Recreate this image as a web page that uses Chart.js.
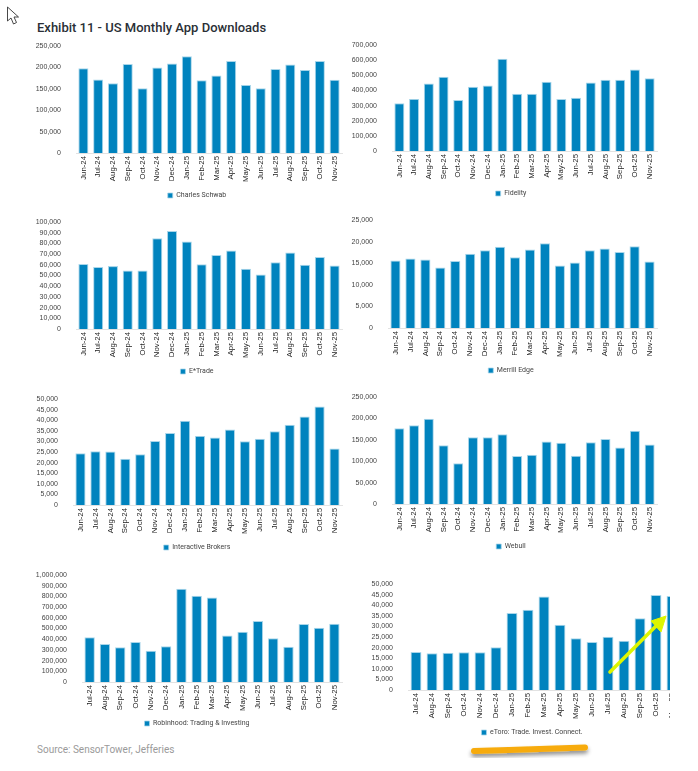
<!DOCTYPE html>
<html>
<head>
<meta charset="utf-8">
<title>US Monthly App Downloads</title>
<script src="https://cdn.jsdelivr.net/npm/chart.js@4"></script>
<style>
  html, body { margin: 0; padding: 0; background: #fff; }
  body { position: relative; width: 698px; height: 771px; overflow: hidden; }
  #title { position: absolute; left: 37px; top: 20px; font: 500 13px Roboto, sans-serif; color: #2a2f36; white-space: nowrap; }
  #source { position: absolute; left: 37px; top: 744px; font: 400 10px Roboto, sans-serif; color: #9a9a9a; white-space: nowrap; }
  .panel { position: absolute; overflow: hidden; }
  .panel canvas { filter: blur(0.3px); }
  #marks { position: absolute; left: 0; top: 0; }
</style>
</head>
<body>
<div id="title">Exhibit 11 - US Monthly App Downloads</div>
<div id="source">Source: SensorTower, Jefferies</div>

<script>
// months on the x axes
const monthsFromJun = ['Jun-24','Jul-24','Aug-24','Sep-24','Oct-24','Nov-24','Dec-24','Jan-25','Feb-25','Mar-25','Apr-25','May-25','Jun-25','Jul-25','Aug-25','Sep-25','Oct-25','Nov-25'];
const monthsFromJul = ['Jul-24','Aug-24','Sep-24','Oct-24','Nov-24','Dec-24','Jan-25','Feb-25','Mar-25','Apr-25','May-25','Jun-25','Jul-25','Aug-25','Sep-25','Oct-25','Nov-25'];

// values
const schwab = [198000,172000,163000,208000,151000,200000,209000,226000,170000,181000,215000,159000,151000,196000,207000,194000,215000,171000];
const fidelity = [316000,344000,446000,490000,336000,424000,433000,609000,378000,378000,457000,344000,351000,453000,470000,470000,539000,481000];
const etrade = [60700,57900,58800,54700,54700,84900,91500,81800,60400,69200,73300,56300,50900,62300,71400,60100,67300,59400];
const merrill = [15600,16100,15850,14000,15500,17200,18000,18800,16400,18200,19600,14450,15150,18000,18400,17600,18900,15400];
const ibkr = [24400,25300,25200,21800,23900,30200,34000,39700,32600,31800,35600,30100,31200,34800,37800,41800,46500,26600];
const webull = [176900,184000,199000,137000,95000,156000,156000,163000,112000,115000,146000,143000,113000,144000,152000,132000,171000,139000];
const robinhood = [418000,355000,324000,374000,292000,333000,871000,805000,789000,434000,469000,569000,409000,330000,541000,506000,544000];
const etoro = [17900,17300,17600,17800,17800,20200,36300,37900,44100,30800,24400,22700,25100,23200,33800,44800,44300];

// page geometry of each small chart: left/right of the canvas, plot box, legend centre
const panels = [
    { name: 'Charles Schwab', labels: monthsFromJun, data: schwab, max: 250000, step: 50000, left: 30, right: 364, plotL: 76, plotR: 342, top: 46, zero: 152, legendY: 195 },
    { name: 'Fidelity', labels: monthsFromJun, data: fidelity, max: 700000, step: 100000, left: 348, right: 674, plotL: 392, plotR: 657, top: 45, zero: 150, legendY: 193 },
    { name: 'E*Trade', labels: monthsFromJun, data: etrade, max: 100000, step: 10000, left: 30, right: 364, plotL: 76, plotR: 342, top: 222, zero: 328, legendY: 371 },
    { name: 'Merrill Edge', labels: monthsFromJun, data: merrill, max: 25000, step: 5000, left: 348, right: 674, plotL: 388, plotR: 657, top: 220, zero: 327, legendY: 370 },
    { name: 'Interactive Brokers', labels: monthsFromJun, data: ibkr, max: 50000, step: 5000, left: 30, right: 364, plotL: 73, plotR: 342, top: 399, zero: 504, legendY: 547 },
    { name: 'Webull', labels: monthsFromJun, data: webull, max: 250000, step: 50000, left: 348, right: 674, plotL: 392, plotR: 657, top: 397, zero: 503, legendY: 546 },
    { name: 'Robinhood: Trading & Investing', labels: monthsFromJul, data: robinhood, max: 1000000, step: 100000, left: 30, right: 364, plotL: 82, plotR: 342, top: 575, zero: 681, legendY: 723 },
    // last bar runs off the right edge of the screenshot, the wrapper cuts it at 670
    { name: 'eToro: Trade. Invest. Connect.', labels: monthsFromJul, data: etoro, max: 50000, step: 5000, left: 370, right: 694, plotL: 408, plotR: 680, top: 584, zero: 689, legendY: 732, clipAt: 670 }
];

const barBlue = '#0083BE';
const barEdge = '#A9D6EA';

panels.forEach(p => {
    const canvasTop = p.top - 10;
    const canvasBottom = p.legendY + 14;
    const wrap = document.createElement('div');
    wrap.className = 'panel';
    wrap.style.left = p.left + 'px';
    wrap.style.top = canvasTop + 'px';
    wrap.style.width = ((p.clipAt || p.right) - p.left) + 'px';
    wrap.style.height = (canvasBottom - canvasTop) + 'px';
    const canvas = document.createElement('canvas');
    canvas.width = p.right - p.left;
    canvas.height = canvasBottom - canvasTop;
    canvas.style.width = canvas.width + 'px';
    canvas.style.height = canvas.height + 'px';
    wrap.appendChild(canvas);
    document.body.appendChild(wrap);

    new Chart(canvas.getContext('2d'), {
        type: 'bar',
        data: {
            labels: p.labels,
            datasets: [{
                label: p.name,
                data: p.data,
                backgroundColor: barBlue,
                borderColor: barEdge,
                borderWidth: { top: 1, left: 1, right: 1, bottom: 0 },
                barPercentage: 0.68,
                categoryPercentage: 1
            }]
        },
        options: {
            responsive: false,
            animation: false,
            devicePixelRatio: 1,
            layout: { padding: { top: 10 } },
            plugins: {
                tooltip: { enabled: false },
                legend: {
                    position: 'bottom',
                    labels: {
                        boxWidth: 5,
                        boxHeight: 5,
                        padding: 4,
                        color: '#444',
                        font: { size: 7, family: 'Roboto, sans-serif' }
                    }
                }
            },
            scales: {
                y: {
                    min: 0,
                    max: p.max,
                    grid: { display: false },
                    border: { display: false },
                    ticks: {
                        stepSize: p.step,
                        autoSkip: false,
                        padding: 7,
                        color: '#444',
                        font: { size: 7, family: 'Liberation Sans' },
                        callback: v => v.toLocaleString('en-US')
                    },
                    afterFit: scale => {
                        scale.width = p.plotL - p.left;
                        scale.paddingTop = scale.paddingBottom = 0;
                    }
                },
                // empty axis that holds the right margin, so the legend stays centred on the full canvas
                rightGap: {
                    axis: 'y',
                    position: 'right',
                    grid: { display: false },
                    border: { display: false },
                    ticks: { display: false },
                    afterFit: scale => {
                        scale.width = p.right - p.plotR;
                        scale.paddingTop = scale.paddingBottom = 0;
                    }
                },
                x: {
                    grid: { display: false, drawTicks: false },
                    border: { color: '#e2e2e2', width: 1 },
                    ticks: {
                        autoSkip: false,
                        minRotation: 90,
                        maxRotation: 90,
                        padding: 3,
                        color: '#222',
                        font: { size: 7.8, family: 'Liberation Sans' }
                    },
                    afterFit: scale => {
                        scale.height = p.legendY - 8 - p.zero;
                        scale.paddingLeft = scale.paddingRight = 0;
                    }
                }
            }
        }
    });
});
</script>

<!-- hand drawn marks sitting on top of the screenshot: cursor, arrow, underline -->
<svg id="marks" width="698" height="771" viewBox="0 0 698 771">
  <defs>
    <filter id="soft" x="-10%" y="-200%" width="120%" height="500%">
      <feDropShadow dx="0" dy="3" stdDeviation="2" flood-color="#000" flood-opacity="0.45"/>
    </filter>
  </defs>
  <path d="M7.5 7 L7.5 21 L11 18 L13.5 24 L16.5 22.5 L14 17 L18.5 17 Z" fill="#fff" stroke="#333" stroke-width="0.9" stroke-linejoin="round"/>
  <line x1="610" y1="672" x2="656" y2="626" stroke="#DDF500" stroke-width="3.6" stroke-linecap="round"/>
  <path d="M666 616 L651 621 L661 632 Z" fill="#DDF500" stroke="#DDF500" stroke-width="1" stroke-linejoin="round"/>
  <line x1="474" y1="751" x2="585" y2="747.5" stroke="#F7AB0B" stroke-width="6" stroke-linecap="round" filter="url(#soft)"/>
</svg>
</body>
</html>
